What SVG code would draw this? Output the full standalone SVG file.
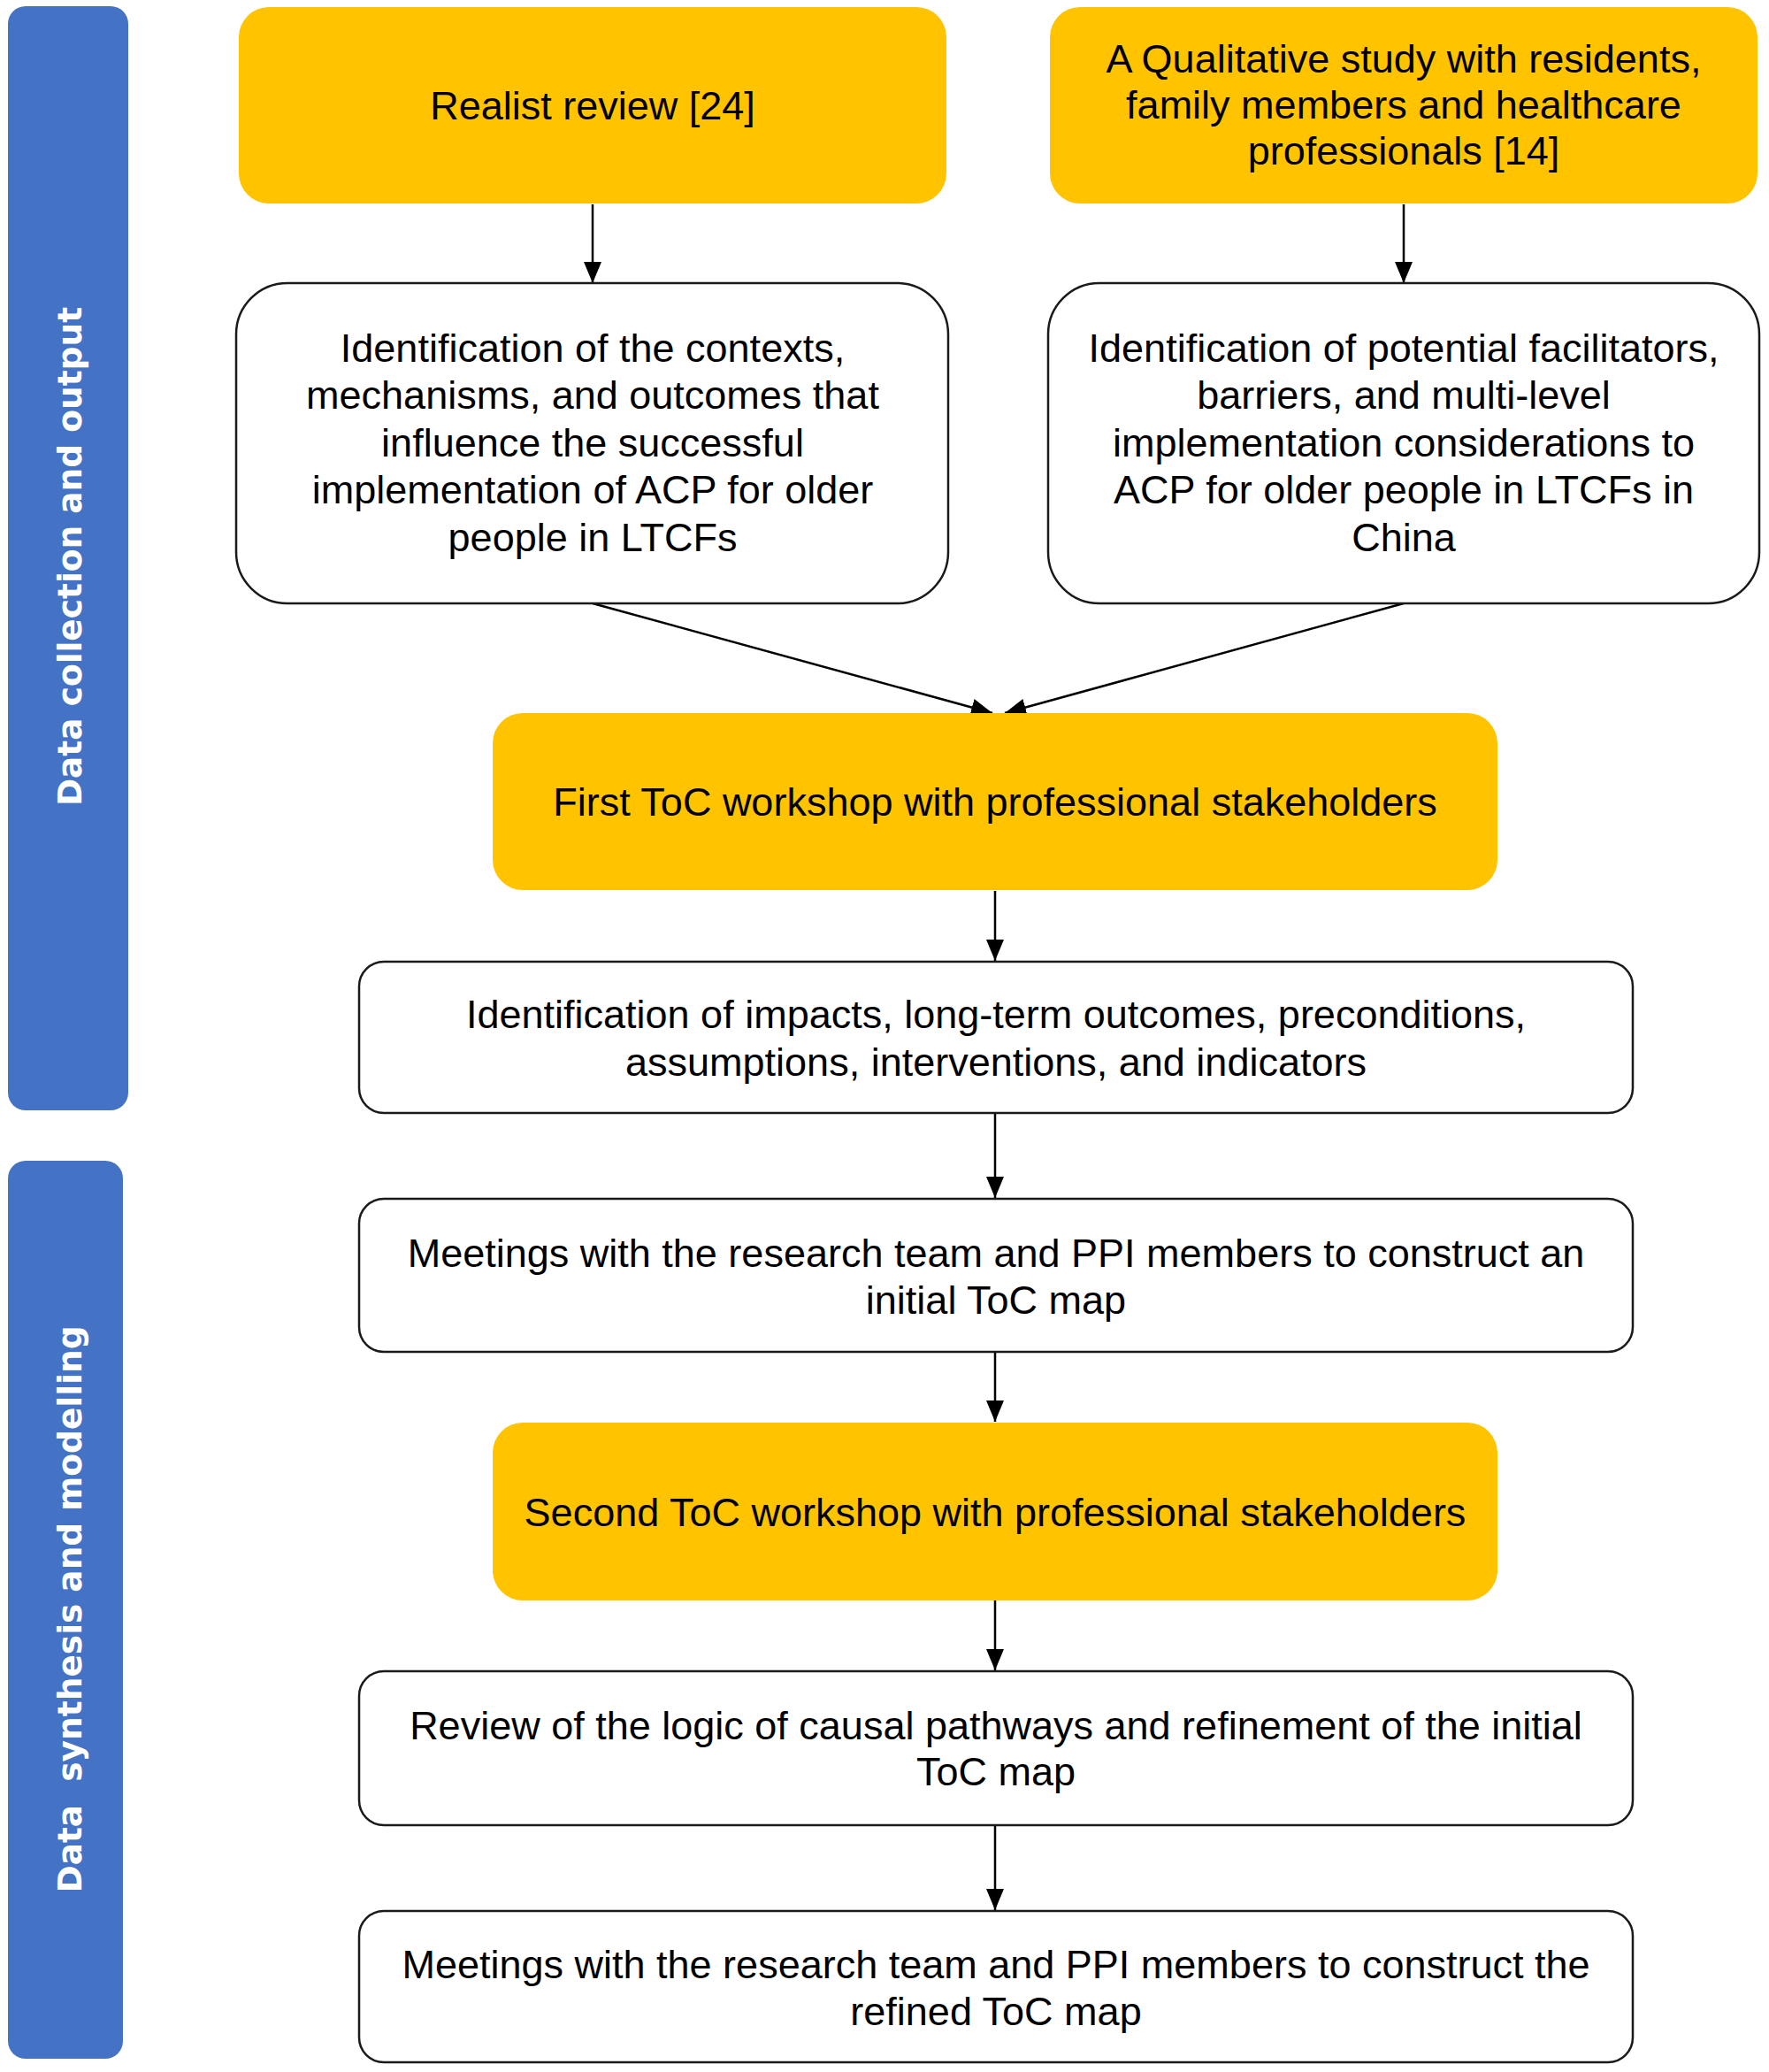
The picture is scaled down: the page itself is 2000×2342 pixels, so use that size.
<svg xmlns="http://www.w3.org/2000/svg" width="2000" height="2342" viewBox="0 0 2000 2342">
<style>
.bar{fill:#4472C4;}
.bartxt{font-family:"DejaVu Sans",Verdana,sans-serif;font-weight:bold;font-size:37.5px;fill:#ffffff;text-anchor:middle;}
.y{fill:#FFC300;}
.w{fill:#ffffff;stroke:#1a1a1a;stroke-width:2.5;}
.t{font-family:"Liberation Sans",Arial,sans-serif;font-size:45px;fill:#000000;text-anchor:middle;}
.c{stroke:#000000;stroke-width:2.5;fill:none;marker-end:url(#ah);}
</style>
<defs>
<marker id="ah" markerUnits="userSpaceOnUse" markerWidth="26" markerHeight="22" refX="24" refY="10" orient="auto">
<path d="M0,0 L24,10 L0,20 z" fill="#000000"/>
</marker>
</defs>
<rect width="2000" height="2342" fill="#ffffff"/>
<g id="phase1">
<rect class="bar" x="9" y="7" width="136" height="1248" rx="20"/>
<text class="bartxt" transform="translate(92,629) rotate(-90)">Data collection and output</text>
</g>
<g id="phase2">
<rect class="bar" x="9" y="1312" width="130" height="1015" rx="20"/>
<text class="bartxt" transform="translate(92,1819) rotate(-90)" xml:space="preserve">Data  synthesis and modelling</text>
</g>
<g id="connectors">
<line class="c" x1="670" y1="231" x2="670" y2="320"/>
<line class="c" x1="1587" y1="231" x2="1587" y2="320"/>
<line class="c" x1="670" y1="682" x2="1122" y2="806"/>
<line class="c" x1="1587" y1="682" x2="1136" y2="806"/>
<line class="c" x1="1125" y1="1007" x2="1125" y2="1086"/>
<line class="c" x1="1125" y1="1258" x2="1125" y2="1354"/>
<line class="c" x1="1125" y1="1528" x2="1125" y2="1607"/>
<line class="c" x1="1125" y1="1809" x2="1125" y2="1888"/>
<line class="c" x1="1125" y1="2063" x2="1125" y2="2159"/>
</g>
<g id="realist">
<rect class="y" x="270" y="8" width="800" height="222" rx="34"/>
<text class="t" x="670" y="135">Realist review [24]</text>
</g>
<g id="qualitative">
<rect class="y" x="1187" y="8" width="800" height="222" rx="34"/>
<text class="t" x="1587" y="82">A Qualitative study with residents,</text>
<text class="t" x="1587" y="134">family members and healthcare</text>
<text class="t" x="1587" y="186">professionals [14]</text>
</g>
<g id="cmo">
<rect class="w" x="267" y="320" width="805" height="362" rx="58"/>
<text class="t" x="670" y="409">Identification of the contexts,</text>
<text class="t" x="670" y="462">mechanisms, and outcomes that</text>
<text class="t" x="670" y="516">influence the successful</text>
<text class="t" x="670" y="569">implementation of ACP for older</text>
<text class="t" x="670" y="623">people in LTCFs</text>
</g>
<g id="facilitators">
<rect class="w" x="1185" y="320" width="804" height="362" rx="58"/>
<text class="t" x="1587" y="409">Identification of potential facilitators,</text>
<text class="t" x="1587" y="462">barriers, and multi-level</text>
<text class="t" x="1587" y="516">implementation considerations to</text>
<text class="t" x="1587" y="569">ACP for older people in LTCFs in</text>
<text class="t" x="1587" y="623">China</text>
</g>
<g id="workshop1">
<rect class="y" x="557" y="806" width="1136" height="200" rx="34"/>
<text class="t" x="1125" y="922">First ToC workshop with professional stakeholders</text>
</g>
<g id="impacts">
<rect class="w" x="406" y="1087" width="1440" height="171" rx="28"/>
<text class="t" x="1126" y="1162">Identification of impacts, long-term outcomes, preconditions,</text>
<text class="t" x="1126" y="1216">assumptions, interventions, and indicators</text>
</g>
<g id="meeting1">
<rect class="w" x="406" y="1355" width="1440" height="173" rx="28"/>
<text class="t" x="1126" y="1432">Meetings with the research team and PPI members to construct an</text>
<text class="t" x="1126" y="1485">initial ToC map</text>
</g>
<g id="workshop2">
<rect class="y" x="557" y="1608" width="1136" height="201" rx="34"/>
<text class="t" x="1125" y="1725">Second ToC workshop with professional stakeholders</text>
</g>
<g id="review">
<rect class="w" x="406" y="1889" width="1440" height="174" rx="28"/>
<text class="t" x="1126" y="1966">Review of the logic of causal pathways and refinement of the initial</text>
<text class="t" x="1126" y="2018">ToC map</text>
</g>
<g id="meeting2">
<rect class="w" x="406" y="2160" width="1440" height="171" rx="28"/>
<text class="t" x="1126" y="2236">Meetings with the research team and PPI members to construct the</text>
<text class="t" x="1126" y="2289">refined ToC map</text>
</g>
</svg>
